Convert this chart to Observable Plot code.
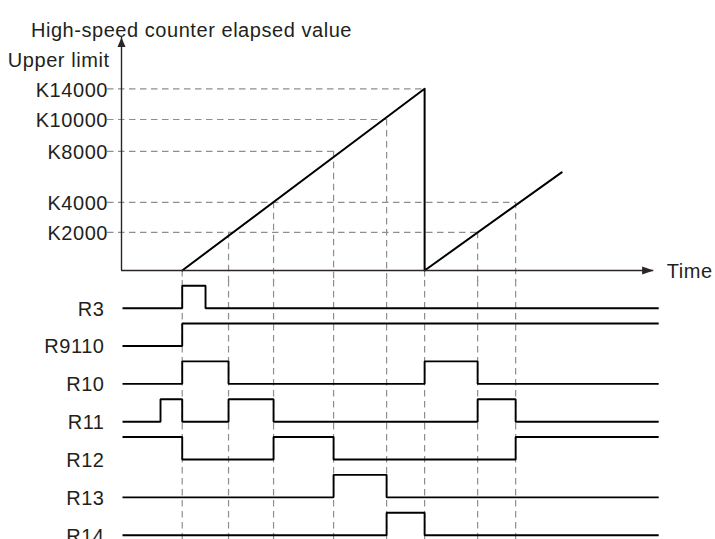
<!DOCTYPE html>
<html><head><meta charset="utf-8">
<script src="https://cdn.jsdelivr.net/npm/d3@7"></script>
<script src="https://cdn.jsdelivr.net/npm/@observablehq/plot@0.6"></script>
<style>
html,body{margin:0;padding:0;background:#fff;}
#chart svg{display:block;}
#chart svg text{letter-spacing:0.55px;}
</style></head><body><div id="chart"></div>
<script>
// ---------- upper panel: counter elapsed value ----------
const title = "High-speed counter elapsed value";
const axisLabel = "Upper limit";
const timeLabel = "Time";
const counterTicks = [2000, 4000, 8000, 10000, 14000];
const tickLabels = ["K2000", "K4000", "K8000", "K10000", "K14000"];
// time (arbitrary units) where each set-value dashed line ends
const tickReachTimes = [35.6, 39.4, 21.2, 26.5, 30.3];
// elapsed value ramp (rise, reset, rise again)
const rampTimes = [6.07, 30.3, 30.3, 44.0];
const rampValues = [0, 14000, 0, 6350];
// dashed vertical markers (time, value where they start)
const markerTimes = [6.07, 10.7, 15.2, 21.2, 26.5, 30.3, 35.6, 39.4];
const markerValues = [0, 2000, 4000, 8000, 10000, 0, 2000, 4000];
const timeAxisEnd = 53.2;

// ---------- lower panel: timing diagram ----------
const signals = ["R3", "R9110", "R10", "R11", "R12", "R13", "R14"];
const initialLevels = [0, 0, 0, 0, 1, 0, 0];
const toggleTimes = [
  [6.07, 8.4],
  [6.07],
  [6.07, 10.7, 30.3, 35.6],
  [3.9, 6.07, 10.7, 15.2, 35.6, 39.4],
  [6.07, 15.2, 21.2, 39.4],
  [21.2, 26.5],
  [26.5, 30.3]
];
const waveStart = 0.1, waveEnd = 53.7;

// ---------- styling / layout ----------
const W = 715;
const textColor = "#231f20";
const axisColor = "#2b2526";
const dashColor = "#8e8e8e";
const dash = {stroke: dashColor, strokeWidth: 1.2, strokeDasharray: "6.5,4.5"};
const font = {fontSize: 20, fill: textColor, fontFamily: "Liberation Sans, Arial, sans-serif"};
const xScale = {domain: [0, timeAxisEnd]};
const margins = {marginLeft: 121, marginRight: W - 653.2};
const highStep = 0.595; // height of a "high" level, in row units

// schematic (non-proportional) vertical spacing of the counter axis
const counterSpacing = d3.scaleLinear()
  .domain([0, 2000, 4000, 8000, 10000, 14000])
  .range([0, 38.2, 68.2, 119.2, 151, 181.7]);

const upArrow = {draw(ctx) { ctx.moveTo(0, 0); ctx.lineTo(-4, 9.5); ctx.lineTo(4, 9.5); ctx.closePath(); }};
const rightArrow = {draw(ctx) { ctx.moveTo(0, 0); ctx.lineTo(-11.6, -4); ctx.lineTo(-11.6, 4); ctx.closePath(); }};

const gridData = counterTicks.map((v, i) => ({v, t: tickReachTimes[i], label: tickLabels[i]}));
const markerData = markerTimes.map((t, i) => ({t, v: markerValues[i]}));
const rampData = rampTimes.map((t, i) => ({t, v: rampValues[i]}));

const counterPlot = Plot.plot({
  width: W, height: 280, marginTop: 37, marginBottom: 10, ...margins,
  style: {background: "white", fontFamily: "Liberation Sans, Arial, sans-serif", overflow: "visible"},
  x: {...xScale, axis: null},
  y: {transform: counterSpacing, domain: [0, 233], axis: null},
  marks: [
    Plot.ruleY(gridData, {y: "v", x1: () => 0, x2: "t", insetLeft: -14, ...dash}),
    Plot.ruleX(markerData, {x: "t", y1: "v", y2: () => 0, insetBottom: -11, ...dash}),
    Plot.line(rampData, {x: "t", y: "v", stroke: "#000", strokeWidth: 2}),
    Plot.ruleX([0], {x: d => d, stroke: axisColor, strokeWidth: 1.4}),
    Plot.ruleY([0], {y: d => d, stroke: axisColor, strokeWidth: 1.4}),
    Plot.dot([0], {x: d => d, frameAnchor: "top", symbol: upArrow, fill: axisColor, stroke: "none"}),
    Plot.dot([0], {x: () => timeAxisEnd, y: d => d, symbol: rightArrow, fill: axisColor, stroke: "none"}),
    Plot.text(gridData, {x: () => 0, y: "v", text: "label", textAnchor: "end", dx: -13.5, dy: 1.5, ...font}),
    Plot.text([title], {x: () => 0, frameAnchor: "top", text: d => d, textAnchor: "start", dx: -90.6, dy: -14.6, ...font}),
    Plot.text([axisLabel], {x: () => 0, frameAnchor: "top", text: d => d, textAnchor: "end", dx: -12, dy: 15.2, ...font}),
    Plot.text([timeLabel], {x: () => timeAxisEnd, y: () => 0, text: d => d, textAnchor: "start", dx: 13.1, dy: 1, ...font})
  ]
});

const waveData = [];
signals.forEach((name, row) => {
  let lv = initialLevels[row];
  waveData.push({name, row, t: waveStart, lv});
  for (const t of toggleTimes[row]) { lv = 1 - lv; waveData.push({name, row, t, lv}); }
  waveData.push({name, row, t: waveEnd, lv});
});

const timingPlot = Plot.plot({
  width: W, height: 259, marginTop: 0, marginBottom: 0, ...margins,
  style: {background: "white", fontFamily: "Liberation Sans, Arial, sans-serif", overflow: "visible"},
  x: {...xScale, axis: null},
  y: {domain: [0, signals.length - 1], range: [27.7, 254.7], axis: null},
  marks: [
    Plot.ruleX(markerTimes, {x: d => d, ...dash}),
    Plot.line(waveData, {x: "t", y: d => d.row - d.lv * highStep, z: "name", curve: "step-after",
      stroke: "#000", strokeWidth: 1.9, strokeLinejoin: "miter", strokeLinecap: "butt"}),
    Plot.text(signals, {x: () => 0, y: (d, i) => i, text: d => d, textAnchor: "end", dx: -17, dy: 1, ...font})
  ]
});

const el = document.getElementById("chart");
el.appendChild(counterPlot);
el.appendChild(timingPlot);
</script></body></html>
